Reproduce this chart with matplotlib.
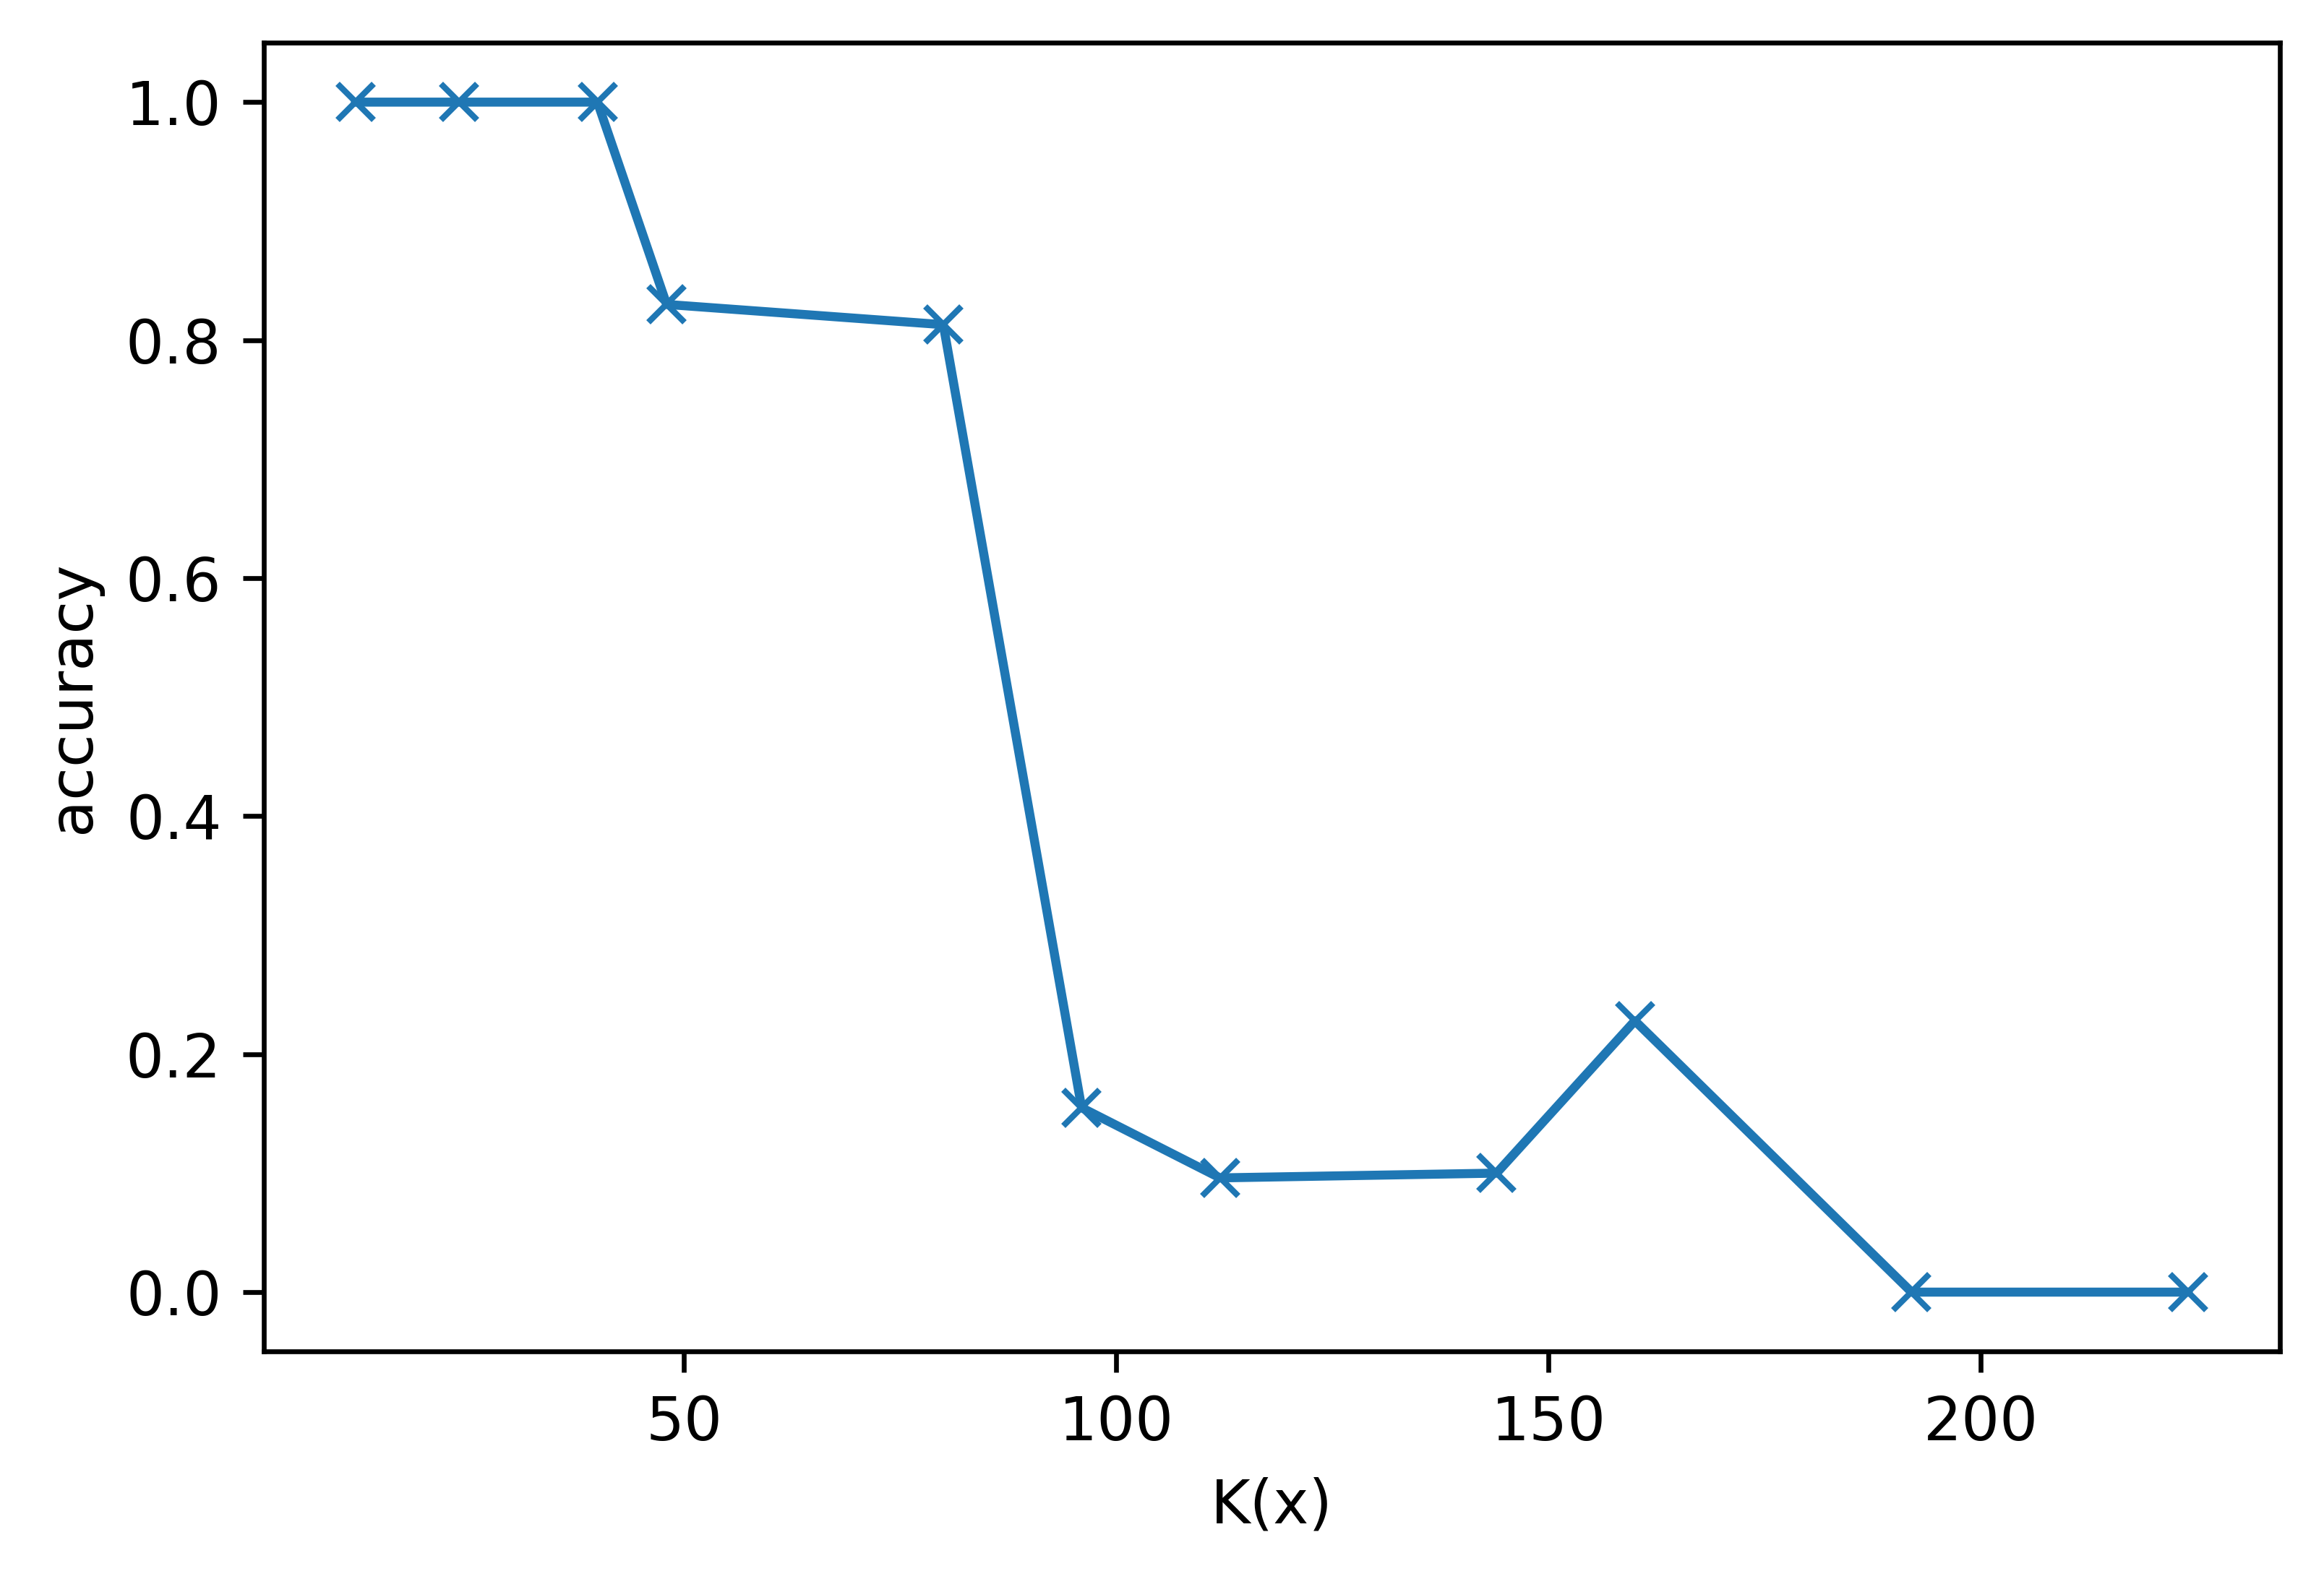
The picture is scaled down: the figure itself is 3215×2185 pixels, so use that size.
import matplotlib
matplotlib.use("Agg")
import matplotlib.pyplot as plt

k_values = [12, 24, 40, 48, 80, 96, 112, 144, 160, 192, 224]
accuracy = [1.0, 1.0, 1.0, 0.83, 0.813, 0.155, 0.096, 0.1, 0.228, 0.0, 0.0]


def plot_accuracy(k, acc):
    fig = plt.figure(figsize=(3215 / 600, 2185 / 600), dpi=600)
    ax = fig.add_subplot(111)
    ax.plot(k, acc, marker='x')
    ax.set_xlabel('K(x)')
    ax.set_ylabel('accuracy')
    fig.subplots_adjust(left=0.1135, right=0.981, top=0.973, bottom=0.144)
    fig.savefig('out.png', dpi=600)


if __name__ == "__main__":
    plot_accuracy(k_values, accuracy)
